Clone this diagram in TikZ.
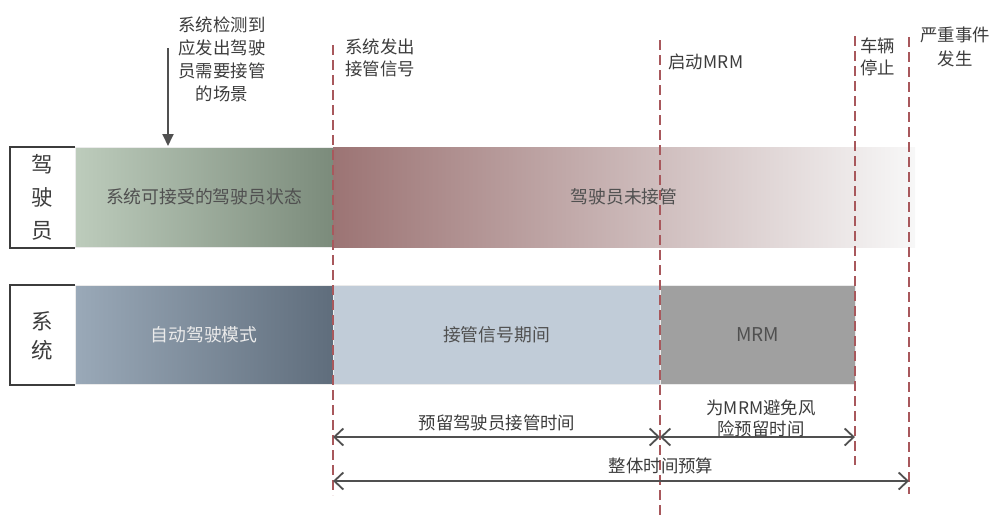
\documentclass[tikz,border=0pt]{standalone}
\usepackage{fontspec}
\setmainfont{Noto Sans CJK SC}
\usetikzlibrary{arrows.meta}
\definecolor{txt}{HTML}{3C3C3C}
\definecolor{bartxt}{HTML}{505050}
\definecolor{dashred}{HTML}{A8585C}
\definecolor{linegray}{HTML}{505050}
\definecolor{greenL}{HTML}{BDCCBC}
\definecolor{greenR}{HTML}{7B8B7B}
\definecolor{redL}{HTML}{9C7474}
\definecolor{blueL}{HTML}{9AA9B8}
\definecolor{blueR}{HTML}{5F6D7C}
\definecolor{blueflat}{HTML}{C1CCD8}
\definecolor{mrmgray}{HTML}{A0A0A0}
\tikzset{
  bar/.style={rectangle, draw=black!8, line width=1pt, inner sep=0pt,
    font=\fontsize{17.8}{20}\selectfont, text=bartxt},
  rowlabel/.style={align=center, text=txt, inner sep=0pt},
  toplabel/.style={text=txt, inner sep=0pt, font=\fontsize{17.4}{23}\selectfont},
  timeline/.style={draw=dashred, line width=2pt, dash pattern=on 10pt off 5pt},
  dimarrow/.style={draw=linegray, line width=1.8pt,
    {Straight Barb[length=9pt,width=17pt]}-{Straight Barb[length=9pt,width=17pt]}},
  boxline/.style={draw=txt, line width=2pt},
}
\begin{document}
\begin{tikzpicture}[x=1pt,y=-1pt]
\useasboundingbox (0,0) rectangle (993,517);

% driver row
\node[bar, left color=greenL, right color=greenR, minimum width=258pt, minimum height=100pt] (d1) at (204,197) {系统可接受的驾驶员状态};
\node[bar, draw=none, left color=redL, right color=white!97!black, minimum width=582pt, minimum height=100pt] (d2) at (624,197) {驾驶员未接管};
% system row
\node[bar, left color=blueL, right color=blueR, text=white!92!black, minimum width=258pt, minimum height=99pt] (s1) at (204,334.5) {自动驾驶模式};
\node[bar, fill=blueflat, minimum width=327pt, minimum height=99pt] (s2) at (496.5,334.5) {接管信号期间};
\node[bar, fill=mrmgray, minimum width=195pt, minimum height=99pt, font=\fontsize{19}{20}\selectfont] (s3) at (757.5,334.5) {MRM};

% row labels
\node[rowlabel, font=\fontsize{21.5}{33}\selectfont] (dl) at (42.5,197) {驾\\驶\\员};
\node[rowlabel, font=\fontsize{21.5}{29}\selectfont] (sl) at (42.5,336) {系\\统};
\draw[boxline] (d1.north west) -| ([xshift=-65pt]d1.south west) -- (d1.south west);
\draw[boxline] (s1.north west) -| ([xshift=-65pt]s1.south west) -- (s1.south west);

% time lines
\coordinate (t1a) at (333,45);  \coordinate (t1b) at (333,495);
\coordinate (t2a) at (660,40);  \coordinate (t2b) at (660,517);
\coordinate (t3a) at (855,36);  \coordinate (t3b) at (855,465);
\coordinate (t4a) at (909,37);  \coordinate (t4b) at (909,494);
\draw[timeline] (t1a) -- (t1b);
\draw[timeline] (t2a) -- (t2b);
\draw[timeline] (t3a) -- (t3b);
\draw[timeline] (t4a) -- (t4b);

% top labels
\node[toplabel, align=center] (scene) at (222,59) {系统检测到\\应发出驾驶\\员需要接管\\的场景};
\coordinate (arrA) at (168,48);
\coordinate (arrB) at (168,146);
\draw[draw=linegray, line width=1.8pt, -{Triangle[length=12pt,width=11pt]}] (arrA) -- (arrB);
\node[toplabel, align=left, anchor=west, font=\fontsize{17.4}{22}\selectfont] (sig) at (345,58) {系统发出\\接管信号};
\node[toplabel, anchor=west] (mrmstart) at (668,62) {启动M\kern0.5pt R\kern0.5pt M};
\node[toplabel, align=left, anchor=west, font=\fontsize{17.4}{22}\selectfont] (stop) at (860,57) {车辆\\停止};
\node[toplabel, align=center, font=\fontsize{17.4}{24}\selectfont] (event) at (955,47) {严重事件\\发生};

% dimension arrows
\coordinate (p1) at (333,437); \coordinate (p2) at (660,437); \coordinate (p3) at (855,437);
\coordinate (q1) at (333,481); \coordinate (q2) at (909,481);
\draw[dimarrow] (p1) -- (p2);
\draw[dimarrow] (p2) -- (p3);
\draw[dimarrow] (q1) -- (q2);
\node[toplabel] (l1) at (497,423) {预留驾驶员接管时间};
\node[toplabel, align=center, font=\fontsize{17.4}{21}\selectfont] (l2) at (761,418) {为MRM避免风\\险预留时间};
\node[toplabel] (l3) at (661,466) {整体时间预算};
\end{tikzpicture}
\end{document}
